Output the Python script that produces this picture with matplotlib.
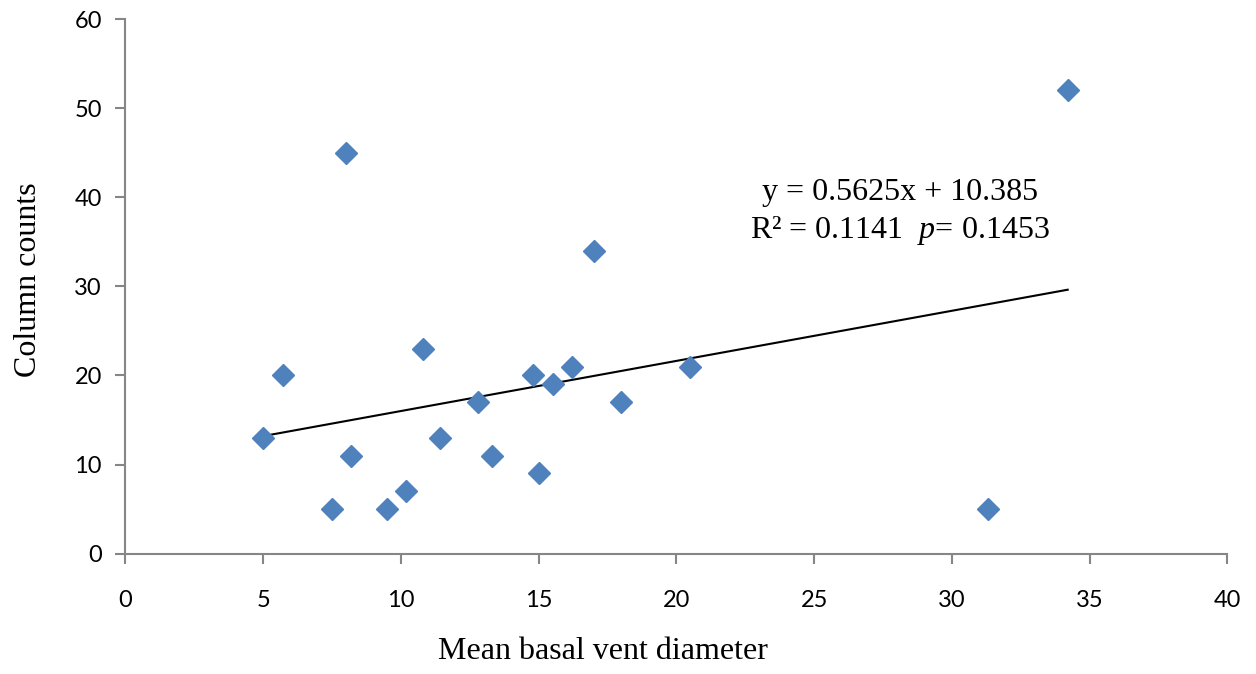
import numpy as np
import matplotlib
matplotlib.use("Agg")
import matplotlib.pyplot as plt

# data
vent_diameter = [5.0, 5.7, 7.5, 8.0, 8.2, 9.5, 10.2, 10.8, 11.4, 12.8,
                 13.3, 14.8, 15.0, 15.5, 16.2, 17.0, 18.0, 20.5, 31.3, 34.2]
column_counts = [13, 20, 5, 45, 11, 5, 7, 23, 13, 17,
                 11, 20, 9, 19, 21, 34, 17, 21, 5, 52]
slope = 0.5625
intercept = 10.385
x_ticks = [0, 5, 10, 15, 20, 25, 30, 35, 40]
y_ticks = [0, 10, 20, 30, 40, 50, 60]

axis_grey = "#868686"
marker_blue = "#4F81BD"

plt.rcParams["mathtext.fontset"] = "custom"
plt.rcParams["mathtext.it"] = "Liberation Serif:italic"
plt.rcParams["mathtext.rm"] = "Liberation Serif"

fig = plt.figure(figsize=(12.56, 6.74), dpi=100)
ax = fig.add_axes([0.0999, 0.1785, 0.8774, 0.7933])

ax.plot(vent_diameter, column_counts, linestyle="none", marker="D",
        markersize=11.5, color=marker_blue, zorder=3)

xs = np.array([min(vent_diameter), max(vent_diameter)])
ax.plot(xs, slope * xs + intercept, color="black", linewidth=1.5, zorder=2)

ax.set_xlim(0, 40)
ax.set_ylim(0, 60)
ax.set_xticks(x_ticks)
ax.set_yticks(y_ticks)

for side in ["top", "right"]:
    ax.spines[side].set_visible(False)
for side in ["left", "bottom"]:
    ax.spines[side].set_color(axis_grey)
    ax.spines[side].set_linewidth(1.5)
ax.tick_params(direction="out", length=7, width=1.5, color=axis_grey,
               labelsize=17)
ax.tick_params(axis="x", pad=19)
ax.tick_params(axis="y", pad=10)
for lab in ax.get_xticklabels() + ax.get_yticklabels():
    lab.set_family("Lato")

ax.set_xlabel("Mean basal vent diameter", family="Liberation Serif",
              fontsize=23)
ax.xaxis.set_label_coords(0.433, -0.155)
ax.set_ylabel("Column counts", family="Liberation Serif",
              fontsize=23)
ax.yaxis.set_label_coords(-0.075, 0.512)

ax.text(28.1, 40.5, f"y = {slope}x + {intercept}", family="Liberation Serif",
        fontsize=23, ha="center", va="center")
ax.text(28.1, 36.3, r"R² = 0.1141  $\it{p}$= 0.1453", family="Liberation Serif",
        fontsize=23, ha="center", va="center")

fig.savefig("out.png", dpi=100)
